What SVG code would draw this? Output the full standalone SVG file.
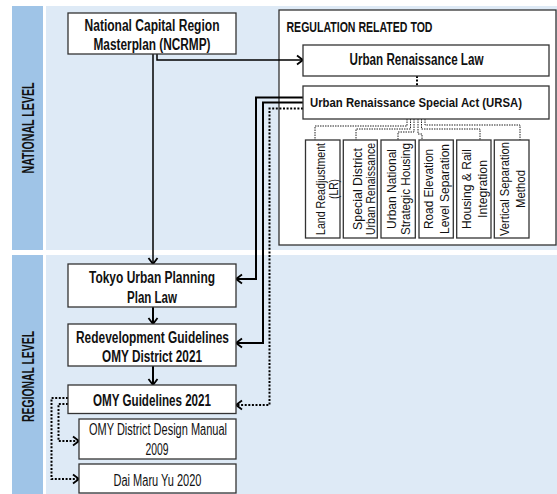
<svg xmlns="http://www.w3.org/2000/svg" width="557" height="494" viewBox="0 0 557 494">
<style>
.band{fill:#9fc4e7}
.panel{fill:#deeaf6}
.box{fill:#fff;stroke:#333;stroke-width:1.3}
.t{font-family:"Liberation Sans Narrow","Liberation Sans",Arial,sans-serif;font-weight:700;font-size:16px;fill:#111;text-anchor:middle}
.r{font-weight:400}
.s{font-size:13.5px;font-weight:400}
.solid{fill:none;stroke:#000;stroke-width:2}
.solidthin{fill:none;stroke:#000;stroke-width:1.5}
.dot{fill:none;stroke:#000;stroke-width:2;stroke-dasharray:2 1.6}
.thin{fill:none;stroke:#222;stroke-width:1;stroke-dasharray:1.5 1}
</style>
<defs>
<marker id="ah" markerUnits="userSpaceOnUse" markerWidth="12" markerHeight="12" refX="9" refY="6" orient="auto" overflow="visible">
<path d="M3,1.5 L9,6 L3,10.5" fill="none" stroke="#000" stroke-width="1.8" stroke-dasharray="none"/>
</marker>
</defs>

<g id="background">
<rect class="band" x="12" y="6" width="31" height="244"/>
<rect class="panel" x="46" y="6" width="511" height="244"/>
<rect class="band" x="12" y="255" width="31" height="239"/>
<rect class="panel" x="46" y="255" width="511" height="239"/>
<text class="t" transform="translate(33.5,128) rotate(-90)" textLength="91" lengthAdjust="spacingAndGlyphs">NATIONAL LEVEL</text>
<text class="t" transform="translate(33.5,376.5) rotate(-90)" textLength="91" lengthAdjust="spacingAndGlyphs">REGIONAL LEVEL</text>
</g>

<g id="regulation-group">
<rect class="box" x="279" y="10" width="277" height="235"/>
<text class="t" x="286.5" y="31.5" style="text-anchor:start;font-size:15px" textLength="146" lengthAdjust="spacingAndGlyphs">REGULATION RELATED TOD</text>
</g>

<g id="connectors">
<path class="solidthin" d="M153,54 V264" marker-end="url(#ah)"/>
<path class="solidthin" d="M157,54 V60 H303" marker-end="url(#ah)"/>
<path class="solid" d="M303,97.5 H256 V279 H236" marker-end="url(#ah)"/>
<path class="solid" d="M303,102.5 H263 V343 H236" marker-end="url(#ah)"/>
<path class="dot" d="M303,108.5 H269.5 V405 H236" marker-end="url(#ah)"/>
<path class="dot" d="M417,76 V86"/>
<path class="solid" d="M153,307 V324" marker-end="url(#ah)"/>
<path class="solid" d="M153,366 V385" marker-end="url(#ah)"/>
<path class="dot" d="M68,398 H51.5 V479 H79" marker-end="url(#ah)"/>
<path class="dot" d="M68,404 H58.5 V441 H79" marker-end="url(#ah)"/>
<path class="thin" d="M407,119 V126 H315 V140"/>
<path class="thin" d="M410.5,119 V129 H356 V140"/>
<path class="thin" d="M414,119 V132 H398 V140"/>
<path class="thin" d="M418,119 V134 H422 V140"/>
<path class="thin" d="M421.5,119 V129 H480 V140"/>
<path class="thin" d="M425,119 V125 H520 V140"/>
</g>

<g id="ncrmp">
<rect class="box" x="68" y="13" width="168" height="41"/>
<text class="t" x="152" y="30.5" textLength="135" lengthAdjust="spacingAndGlyphs">National Capital Region</text>
<text class="t" x="152" y="50" textLength="117" lengthAdjust="spacingAndGlyphs">Masterplan (NCRMP)</text>
</g>

<g id="urban-renaissance-law">
<rect class="box" x="303" y="45" width="246" height="31"/>
<text class="t" x="416.5" y="65" textLength="134" lengthAdjust="spacingAndGlyphs">Urban Renaissance Law</text>
</g>

<g id="ursa">
<rect class="box" x="303" y="86" width="246" height="33"/>
<text class="t" x="416" y="106.5" style="font-size:13.5px" textLength="212" lengthAdjust="spacingAndGlyphs">Urban Renaissance Special Act (URSA)</text>
</g>

<g id="land-readjustment">
<rect class="box" x="305.5" y="140" width="34.5" height="98"/>
<text class="t s" transform="translate(325,189) rotate(-90)" textLength="92" lengthAdjust="spacingAndGlyphs">Land Readjustment</text>
<text class="t s" transform="translate(337.5,189) rotate(-90)" textLength="20" lengthAdjust="spacingAndGlyphs">(LR)</text>
</g>

<g id="special-district">
<rect class="box" x="343.3" y="140" width="34" height="98"/>
<text class="t s" transform="translate(361.5,189) rotate(-90)" textLength="82" lengthAdjust="spacingAndGlyphs">Special District</text>
<text class="t s" transform="translate(375,189) rotate(-90)" textLength="92" lengthAdjust="spacingAndGlyphs">Urban Renaissance</text>
</g>

<g id="urban-national">
<rect class="box" x="381" y="140" width="34.3" height="98"/>
<text class="t s" transform="translate(395.5,189) rotate(-90)" textLength="80" lengthAdjust="spacingAndGlyphs">Urban National</text>
<text class="t s" transform="translate(410,189) rotate(-90)" textLength="92" lengthAdjust="spacingAndGlyphs">Strategic Housing</text>
</g>

<g id="road-elevation">
<rect class="box" x="419" y="140" width="34.3" height="98"/>
<text class="t s" transform="translate(433,189) rotate(-90)" textLength="80" lengthAdjust="spacingAndGlyphs">Road Elevation</text>
<text class="t s" transform="translate(449,189) rotate(-90)" textLength="90" lengthAdjust="spacingAndGlyphs">Level Separation</text>
</g>

<g id="housing-rail">
<rect class="box" x="456.7" y="140" width="34.3" height="98"/>
<text class="t s" transform="translate(470.5,189) rotate(-90)" textLength="80" lengthAdjust="spacingAndGlyphs">Housing &amp; Rail</text>
<text class="t s" transform="translate(486.5,189) rotate(-90)" textLength="58" lengthAdjust="spacingAndGlyphs">Integration</text>
</g>

<g id="vertical-separation">
<rect class="box" x="494.3" y="140" width="34.7" height="98"/>
<text class="t s" transform="translate(508.5,189) rotate(-90)" textLength="94" lengthAdjust="spacingAndGlyphs">Vertical Separation</text>
<text class="t s" transform="translate(525,189) rotate(-90)" textLength="38" lengthAdjust="spacingAndGlyphs">Method</text>
</g>

<g id="tokyo-planning">
<rect class="box" x="68" y="264" width="168" height="43"/>
<text class="t" x="152" y="282.5" textLength="126" lengthAdjust="spacingAndGlyphs">Tokyo Urban Planning</text>
<text class="t" x="152" y="302.5" textLength="50" lengthAdjust="spacingAndGlyphs">Plan Law</text>
</g>

<g id="redevelopment">
<rect class="box" x="68" y="324" width="168" height="42"/>
<text class="t" x="152.5" y="342.5" textLength="153" lengthAdjust="spacingAndGlyphs">Redevelopment Guidelines</text>
<text class="t" x="152" y="362" textLength="100" lengthAdjust="spacingAndGlyphs">OMY District 2021</text>
</g>

<g id="omy-guidelines">
<rect class="box" x="68" y="385" width="168" height="28.5"/>
<text class="t" x="152" y="405.5" textLength="118" lengthAdjust="spacingAndGlyphs">OMY Guidelines 2021</text>
</g>

<g id="omy-design-manual">
<rect class="box" x="79" y="419" width="157" height="40"/>
<text class="t r" x="158" y="434.5" textLength="138" lengthAdjust="spacingAndGlyphs">OMY District Design Manual</text>
<text class="t r" x="157" y="454.5" textLength="23" lengthAdjust="spacingAndGlyphs">2009</text>
</g>

<g id="dai-maru-yu">
<rect class="box" x="79" y="464" width="157" height="29"/>
<text class="t r" x="157.5" y="486" textLength="88" lengthAdjust="spacingAndGlyphs">Dai Maru Yu 2020</text>
</g>
</svg>
